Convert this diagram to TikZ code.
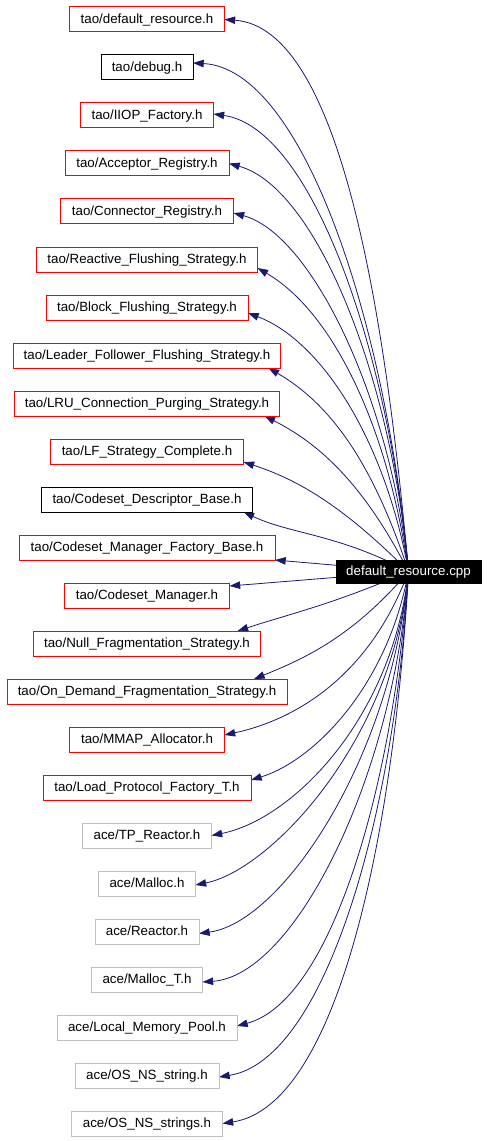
\documentclass[tikz,border=0pt]{standalone}
\usepackage{fontspec}
\setmainfont{Liberation Sans}
\usetikzlibrary{arrows.meta,calc}
\pgfdeclarelayer{bg}
\pgfsetlayers{bg,main}
\definecolor{edgeblue}{RGB}{25,25,112}
\definecolor{boxred}{RGB}{255,0,0}
\definecolor{boxgray}{RGB}{191,191,191}
\tikzset{
  hdr/.style={draw, fill=white, line width=0.75pt, inner sep=0pt, outer sep=0pt,
    minimum height=18.75pt, text height=7.5pt, text depth=1.2pt,
    font=\fontsize{10pt}{12pt}\selectfont, text=black},
  redbox/.style={hdr, draw=boxred},
  blackbox/.style={hdr, draw=black},
  graybox/.style={hdr, draw=boxgray},
  srcbox/.style={fill=black, draw=black, inner sep=0pt, outer sep=0pt,
    minimum width=108.75pt, minimum height=17.25pt, text height=7.5pt, text depth=1.2pt,
    font=\fontsize{10pt}{12pt}\selectfont, text=white},
  dep/.style={draw=edgeblue, line width=0.6pt,
    -{Triangle[length=8pt,width=5.6pt]}},
}
\newcommand\depedge[3]{\draw[dep] (src.center) .. controls #2 and #3 .. #1;}
\begin{document}
\begin{tikzpicture}[x=0.75pt,y=-0.75pt]
\useasboundingbox (0,0) rectangle (488,1141);
\node[srcbox] (src) at (408.5,571.5) {default\_resource.cpp};
\node[redbox,   minimum width=116.25pt] (h1)  at (147,19.5)   {tao/default\_resource.h};
\node[blackbox, minimum width=69pt]     (h2)  at (147,67.5)   {tao/debug.h};
\node[redbox,   minimum width=99.75pt]  (h3)  at (147,115.5)  {tao/IIOP\_Factory.h};
\node[redbox,   minimum width=123pt]    (h4)  at (147,163.5)  {tao/Acceptor\_Registry.h};
\node[redbox,   minimum width=129.75pt] (h5)  at (147,211.5)  {tao/Connector\_Registry.h};
\node[redbox,   minimum width=165.75pt] (h6)  at (147,259.5)  {tao/Reactive\_Flushing\_Strategy.h};
\node[redbox,   minimum width=151.5pt]  (h7)  at (147,307.5)  {tao/Block\_Flushing\_Strategy.h};
\node[redbox,   minimum width=200.25pt] (h8)  at (147,355.5)  {tao/Leader\_Follower\_Flushing\_Strategy.h};
\node[redbox,   minimum width=198.75pt] (h9)  at (147,403.5)  {tao/LRU\_Connection\_Purging\_Strategy.h};
\node[redbox,   minimum width=144.75pt] (h10) at (147,451.5)  {tao/LF\_Strategy\_Complete.h};
\node[blackbox, minimum width=158.25pt] (h11) at (147,499.5)  {tao/Codeset\_Descriptor\_Base.h};
\node[redbox,   minimum width=192pt]    (h12) at (147,547.5)  {tao/Codeset\_Manager\_Factory\_Base.h};
\node[redbox,   minimum width=123.75pt] (h13) at (147,595.5)  {tao/Codeset\_Manager.h};
\node[redbox,   minimum width=170.25pt] (h14) at (147,643.5)  {tao/Null\_Fragmentation\_Strategy.h};
\node[redbox,   minimum width=210pt]    (h15) at (147,691.5)  {tao/On\_Demand\_Fragmentation\_Strategy.h};
\node[redbox,   minimum width=116.25pt] (h16) at (147,739.5)  {tao/MMAP\_Allocator.h};
\node[redbox,   minimum width=156pt]    (h17) at (147,787.5)  {tao/Load\_Protocol\_Factory\_T.h};
\node[graybox,  minimum width=96.75pt]  (h18) at (147,835.5)  {ace/TP\_Reactor.h};
\node[graybox,  minimum width=72.75pt]  (h19) at (147,883.5)  {ace/Malloc.h};
\node[graybox,  minimum width=78pt]     (h20) at (147,931.5)  {ace/Reactor.h};
\node[graybox,  minimum width=83.25pt]  (h21) at (147,979.5)  {ace/Malloc\_T.h};
\node[graybox,  minimum width=135pt]    (h22) at (147,1027.5) {ace/Local\_Memory\_Pool.h};
\node[graybox,  minimum width=108pt]    (h23) at (147,1075.5) {ace/OS\_NS\_string.h};
\node[graybox,  minimum width=113.25pt] (h24) at (147,1123.5) {ace/OS\_NS\_strings.h};
\begin{pgfonlayer}{bg}
\depedge{(h1.east)}{(385.2,310.4)}{(340.0,27.6)}
\depedge{($(h2.east)+(0,-4.5)$)}{(386.4,323.7)}{(303.2,68.8)}
\depedge{($(h3.east)+(0,-1.5)$)}{(388.5,348.2)}{(311.4,127.8)}
\depedge{(h4.east)}{(390.6,371.7)}{(314.9,187)}
\depedge{($(h5.east)+(0,1.5)$)}{(389.3,392.7)}{(310,233.6)}
\depedge{($(h6.east)+(0,8.5)$)}{(386.8,420.2)}{(330.3,310.3)}
\depedge{($(h7.east)+(0,5.5)$)}{(384.3,436.7)}{(319.8,340.1)}
\depedge{($(h8.south east)+(-12,0)$)}{(373.7,465.4)}{(332.1,405)}
\depedge{($(h9.south east)+(-15,0)$)}{(364.9,486.4)}{(321.4,444.7)}
\depedge{($(h10.south east)+(0,-2)$)}{(345.4,508.4)}{(300.2,480.3)}
\depedge{($(h11.south east)+(-9,0)$)}{(338.4,534)}{(290.7,534.2)}
\draw[dep] (src.center) -- (h12.south east);
\draw[dep] (src.center) -- ($(h13.north east)+(0,3)$);
\depedge{($(h14.north east)+(-23,0)$)}{(333.5,604.2)}{(288.7,614.2)}
\depedge{($(h15.north east)+(-33,0)$)}{(353.6,635.8)}{(306.3,657.9)}
\depedge{($(h16.east)+(0,-4.5)$)}{(370.1,675.2)}{(296.4,719.6)}
\depedge{($(h17.north east)+(0,5)$)}{(387.5,686.8)}{(313.5,760.9)}
\depedge{(h18.east)}{(392.5,718.2)}{(292.7,819.3)}
\depedge{($(h19.east)+(0,1.5)$)}{(393.1,741.2)}{(270.2,870.2)}
\depedge{($(h20.east)+(0,2)$)}{(391.6,758.8)}{(282,922.4)}
\depedge{($(h21.east)+(0,2.5)$)}{(393.6,777.2)}{(294.7,975.6)}
\depedge{($(h22.east)+(0,-1.5)$)}{(392.7,789.2)}{(330.9,1000.8)}
\depedge{($(h23.east)+(0,1.5)$)}{(395.3,813.7)}{(325.7,1060.1)}
\depedge{(h24.east)}{(394.3,833)}{(338.2,1105.8)}
\end{pgfonlayer}
\end{tikzpicture}
\end{document}
